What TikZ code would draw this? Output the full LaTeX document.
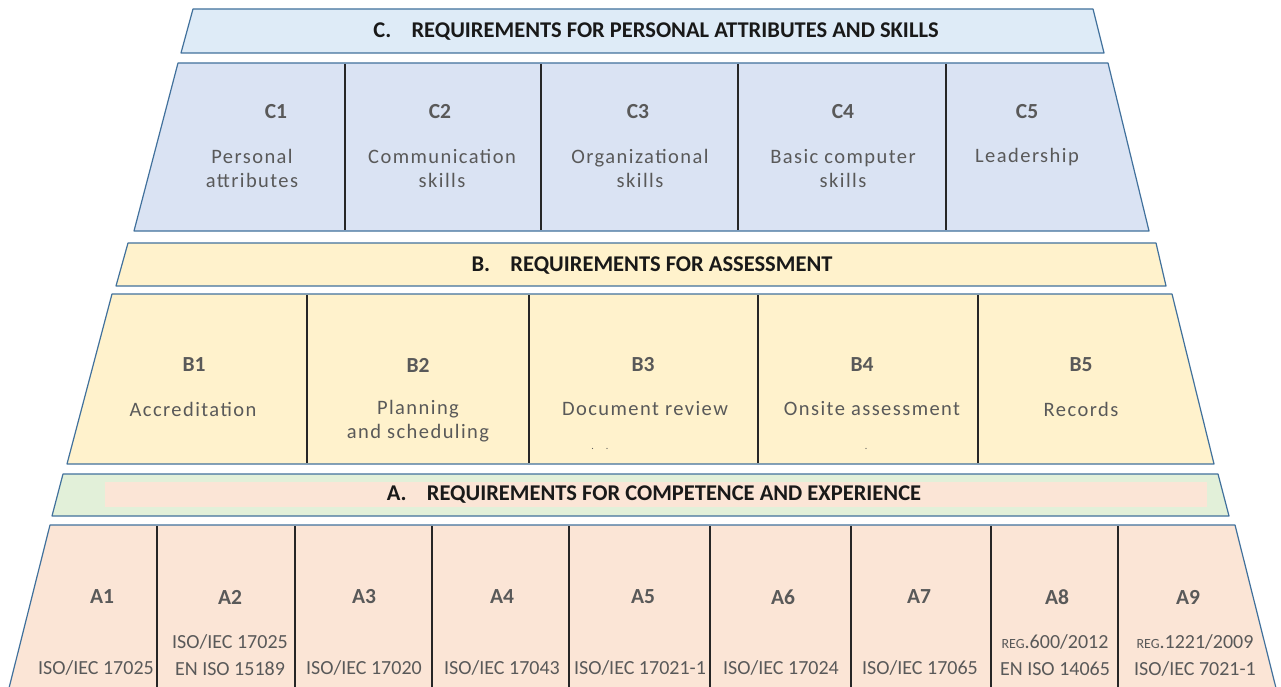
\documentclass[tikz,border=0pt]{standalone}
\usepackage{fontspec}
\setmainfont{Carlito}
\usetikzlibrary{positioning}

\definecolor{cbanner}{HTML}{DEEBF7}
\definecolor{cfill}{HTML}{DAE3F3}
\definecolor{bfill}{HTML}{FFF2CC}
\definecolor{agreen}{HTML}{E2F0D9}
\definecolor{afill}{HTML}{FBE5D6}
\definecolor{rim}{HTML}{41719C}
\definecolor{txtgray}{HTML}{595959}

\tikzset{
    band/.style={draw=rim, line width=1.2pt, line join=round},
    divider/.style={draw=black!85, line width=1.2pt},
    heading/.style={font=\fontsize{22.5}{26}\selectfont\bfseries, text=black!90},
    tag/.style={font=\fontsize{21.5}{24}\selectfont\bfseries, text=txtgray},
    desc/.style={font=\fontsize{20.5}{24}\selectfont\addfontfeature{LetterSpace=7}, text=txtgray, align=center},
    norm/.style={font=\fontsize{20}{27}\selectfont, text=txtgray, align=center}
}

\begin{document}
\begin{tikzpicture}[x=1pt, y=-1pt]

        \useasboundingbox (0,0) rectangle (1281,687);
        \clip (0,0) rectangle (1281,687);
        \fill[white] (0,0) rectangle (1281,687);

        % C block
        \path[band, fill=cbanner] (193,9) -- (1093,9) -- (1104,53) -- (181,53) -- cycle;
        \node[heading] (Chead) at (656,32) {C.\hspace{0.9em}REQUIREMENTS FOR PERSONAL ATTRIBUTES AND SKILLS};
        \path[band, fill=cfill] (178,63) -- (1108,63) -- (1149,231) -- (134,231) -- cycle;
        \draw[divider] (345,64) -- (345,230);
        \draw[divider] (541,64) -- (541,230);
        \draw[divider] (738,64) -- (738,230);
        \draw[divider] (946,64) -- (946,230);

        \node[tag] (C1) at (276,112) {C1};
        \node[tag] (C2) at (440,112) {C2};
        \node[tag] (C3) at (638,112) {C3};
        \node[tag] (C4) at (843,112) {C4};
        \node[tag] (C5) at (1027,112) {C5};
        \node[desc] (C1t) at (252,168.5) {Personal\\attributes};
        \node[desc] (C2t) at (442,168.5) {Communication\\skills};
        \node[desc] (C3t) at (640,168.5) {Organizational\\skills};
        \node[desc] (C4t) at (843,168.5) {Basic computer\\skills};
        \node[desc] (C5t) at (1027,157) {Leadership};

        % B block
        \path[band, fill=bfill] (128,243) -- (1156,243) -- (1166,286) -- (116,286) -- cycle;
        \node[heading] (Bhead) at (652,266) {B.\hspace{0.9em}REQUIREMENTS FOR ASSESSMENT};
        \path[band, fill=bfill] (112,294) -- (1172,294) -- (1214,464) -- (67,464) -- cycle;
        \draw[divider] (307,295) -- (307,463);
        \draw[divider] (529,295) -- (529,463);
        \draw[divider] (758,295) -- (758,463);
        \draw[divider] (978,295) -- (978,463);

        \node[tag] (B1) at (194,365) {B1};
        \node[tag] (B2) at (418,365) {B2};
        \node[tag] (B3) at (643,365) {B3};
        \node[tag] (B4) at (862,365) {B4};
        \node[tag] (B5) at (1081,365) {B5};
        \node[desc] (B1t) at (193,409) {Accreditation};
        \node[desc] (B2t) at (418,421.5) {Planning\\and scheduling};
        \node[desc] (B3t) at (645,409) {Document review};
        \node[desc] (B4t) at (872,409) {Onsite assessment};
        \node[desc] (B5t) at (1081,409) {Records};
        \node[desc, font=\fontsize{10}{10}\selectfont] (B3d) at (600,449) {.\hspace{1.2em}.};
        \node[desc, font=\fontsize{10}{10}\selectfont] (B4d) at (866,449) {.};

        % A block
        \path[band, fill=agreen] (63,474) -- (1218,474) -- (1229,516) -- (52,516) -- cycle;
        \fill[afill] (105,482) rectangle (1207,507);
        \node[heading] (Ahead) at (654,495) {A.\hspace{0.9em}REQUIREMENTS FOR COMPETENCE AND EXPERIENCE};
        \path[band, fill=afill] (50,525) -- (1235,525) -- (1279,700) -- (6,700) -- cycle;
        \draw[divider] (157,526) -- (157,700);
        \draw[divider] (295,526) -- (295,700);
        \draw[divider] (432,526) -- (432,700);
        \draw[divider] (569,526) -- (569,700);
        \draw[divider] (710,526) -- (710,700);
        \draw[divider] (851,526) -- (851,700);
        \draw[divider] (991,526) -- (991,700);
        \draw[divider] (1118,526) -- (1118,700);

        \node[tag] (A1) at (102,597) {A1};
        \node[tag] (A2) at (230,597) {A2};
        \node[tag] (A3) at (364,597) {A3};
        \node[tag] (A4) at (502,597) {A4};
        \node[tag] (A5) at (643,597) {A5};
        \node[tag] (A6) at (783,597) {A6};
        \node[tag] (A7) at (919,597) {A7};
        \node[tag] (A8) at (1057,597) {A8};
        \node[tag] (A9) at (1188,597) {A9};
        \node[norm] (A1t) at (96,668) {ISO/IEC 17025};
        \node[norm] (A2t) at (230,655) {ISO/IEC 17025\\EN ISO 15189};
        \node[norm] (A3t) at (364,668) {ISO/IEC 17020};
        \node[norm] (A4t) at (502,668) {ISO/IEC 17043};
        \node[norm] (A5t) at (640,668) {ISO/IEC 17021-1};
        \node[norm] (A6t) at (781,668) {ISO/IEC 17024};
        \node[norm] (A7t) at (920,668) {ISO/IEC 17065};
        \node[norm] (A8t) at (1055,655) {{\fontsize{14}{14}\selectfont REG}.600/2012\\EN ISO 14065};
        \node[norm] (A9t) at (1195,655) {{\fontsize{14}{14}\selectfont REG}.1221/2009\\ISO/IEC 7021-1};

\end{tikzpicture}
\end{document}
